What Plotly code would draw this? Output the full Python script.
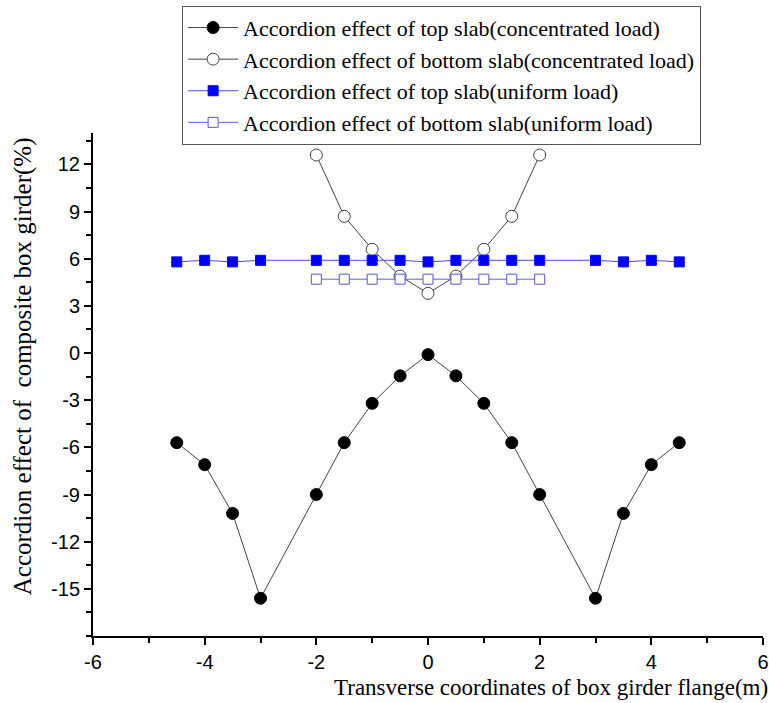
import plotly.graph_objects as go

x_top = [-4.5, -4, -3.5, -3, -2, -1.5, -1, -0.5, 0, 0.5, 1, 1.5, 2, 3, 3.5, 4, 4.5]
top_conc = [-5.7, -7.1, -10.2, -15.6, -9.0, -5.7, -3.2, -1.45, -0.1, -1.45, -3.2, -5.7, -9.0, -15.6, -10.2, -7.1, -5.7]
top_unif = [5.8, 5.9, 5.8, 5.9, 5.9, 5.9, 5.9, 5.9, 5.8, 5.9, 5.9, 5.9, 5.9, 5.9, 5.8, 5.9, 5.8]

x_bot = [-2, -1.5, -1, -0.5, 0, 0.5, 1, 1.5, 2]
bot_conc = [12.6, 8.7, 6.6, 4.9, 3.8, 4.9, 6.6, 8.7, 12.6]
bot_unif = [4.7, 4.7, 4.7, 4.7, 4.7, 4.7, 4.7, 4.7, 4.7]

names = [
    "Accordion effect of top slab(concentrated load)",
    "Accordion effect of bottom slab(concentrated load)",
    "Accordion effect of top slab(uniform load)",
    "Accordion effect of bottom slab(uniform load)",
]
x_ticks = [-6, -4, -2, 0, 2, 4, 6]
y_ticks = [-15, -12, -9, -6, -3, 0, 3, 6, 9, 12]
y_title = "Accordion effect of  composite box girder(%)"
x_title = "Transverse coordinates of box girder flange(m)"

SERIF = "Liberation Serif, Times New Roman, serif"
SANS = "Liberation Sans, Arial, sans-serif"

fig = go.Figure()
fig.add_trace(go.Scatter(x=x_top, y=top_conc, mode="lines+markers", name=names[0],
                         line=dict(color="#444444", width=1),
                         marker=dict(symbol="circle", size=12, color="black",
                                     line=dict(color="black", width=1))))
fig.add_trace(go.Scatter(x=x_bot, y=bot_conc, mode="lines+markers", name=names[1],
                         line=dict(color="#444444", width=1),
                         marker=dict(symbol="circle", size=12, color="white",
                                     line=dict(color="#444444", width=1))))
fig.add_trace(go.Scatter(x=x_top, y=top_unif, mode="lines+markers", name=names[2],
                         line=dict(color="#4a4aff", width=1),
                         marker=dict(symbol="square", size=10, color="#0000ff",
                                     line=dict(color="#0000ff", width=1))))
fig.add_trace(go.Scatter(x=x_bot, y=bot_unif, mode="lines+markers", name=names[3],
                         line=dict(color="#6060e0", width=1),
                         marker=dict(symbol="square", size=10, color="white",
                                     line=dict(color="#5555dd", width=1))))

axis_common = dict(showgrid=False, zeroline=False, showline=True, linecolor="black",
                   linewidth=2, ticks="outside", ticklen=7, tickwidth=1.5,
                   tickcolor="black", mirror=False, ticklabeloverflow="allow",
                   automargin=False,
                   tickfont=dict(family=SANS, size=20, color="black"))

fig.update_xaxes(range=[-6, 6], tickmode="array", tickvals=x_ticks,
                 ticktext=[str(v) for v in x_ticks],
                 minor=dict(ticks="outside", ticklen=5, tickwidth=1.5, tickcolor="black", dtick=1),
                 **axis_common)
fig.update_yaxes(range=[-18, 14], tickmode="array", tickvals=y_ticks,
                 ticktext=[str(v) for v in y_ticks],
                 minor=dict(ticks="outside", ticklen=5, tickwidth=1.5, tickcolor="black",
                            tick0=0, dtick=1.5),
                 **axis_common)

fig.add_annotation(text=y_title, textangle=-90,
                   xref="paper", yref="paper", x=-0.104, y=0.537, xanchor="center", yanchor="middle",
                   showarrow=False, font=dict(family=SERIF, size=25, color="black"))

fig.add_annotation(text=x_title,
                   xref="paper", yref="paper", x=1.01, y=-0.131, xanchor="right", yanchor="bottom",
                   showarrow=False, font=dict(family=SERIF, size=23, color="black"))

fig.update_layout(
    width=769, height=703,
    margin=dict(l=93, r=6, t=128, b=67),
    paper_bgcolor="white", plot_bgcolor="white",
    legend=dict(x=0.133, y=1.253, xanchor="left", yanchor="top",
                bordercolor="#555555", borderwidth=1, bgcolor="white",
                font=dict(family=SERIF, size=22, color="black"),
                tracegroupgap=0, itemwidth=50),
    showlegend=True,
)

fig.write_html("out.html")
